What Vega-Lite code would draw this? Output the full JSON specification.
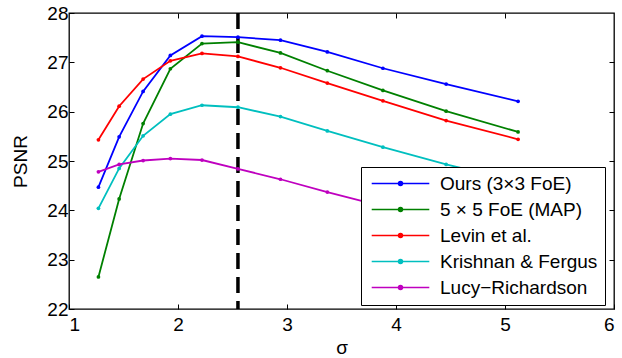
{
  "$schema": "https://vega.github.io/schema/vega-lite/v6.json",
  "width": 545,
  "height": 296,
  "autosize": {"type": "none"},
  "padding": {"left": 69, "top": 13, "right": 8, "bottom": 49},
  "config": {
    "font": "Liberation Sans",
    "view": {"stroke": "black", "strokeWidth": 1.3},
    "axis": {
      "domain": false,
      "grid": false,
      "tickColor": "black",
      "tickSize": -5,
      "tickWidth": 1,
      "labelFontSize": 19,
      "labelColor": "black",
      "labelFont": "Liberation Sans",
      "titleFont": "Liberation Sans",
      "titleFontSize": 19,
      "titleFontWeight": "normal",
      "titleColor": "black"
    }
  },
  "data": {
    "values": [
      {"sigma": 1.27, "psnr": 24.47, "method": "Ours (3×3 FoE)"},
      {"sigma": 1.46, "psnr": 25.49, "method": "Ours (3×3 FoE)"},
      {"sigma": 1.68, "psnr": 26.41, "method": "Ours (3×3 FoE)"},
      {"sigma": 1.93, "psnr": 27.14, "method": "Ours (3×3 FoE)"},
      {"sigma": 2.22, "psnr": 27.53, "method": "Ours (3×3 FoE)"},
      {"sigma": 2.55, "psnr": 27.51, "method": "Ours (3×3 FoE)"},
      {"sigma": 2.94, "psnr": 27.45, "method": "Ours (3×3 FoE)"},
      {"sigma": 3.37, "psnr": 27.21, "method": "Ours (3×3 FoE)"},
      {"sigma": 3.88, "psnr": 26.88, "method": "Ours (3×3 FoE)"},
      {"sigma": 4.46, "psnr": 26.56, "method": "Ours (3×3 FoE)"},
      {"sigma": 5.12, "psnr": 26.21, "method": "Ours (3×3 FoE)"},
      {"sigma": 1.27, "psnr": 22.65, "method": "5 × 5 FoE (MAP)"},
      {"sigma": 1.46, "psnr": 24.23, "method": "5 × 5 FoE (MAP)"},
      {"sigma": 1.68, "psnr": 25.76, "method": "5 × 5 FoE (MAP)"},
      {"sigma": 1.93, "psnr": 26.87, "method": "5 × 5 FoE (MAP)"},
      {"sigma": 2.22, "psnr": 27.38, "method": "5 × 5 FoE (MAP)"},
      {"sigma": 2.55, "psnr": 27.41, "method": "5 × 5 FoE (MAP)"},
      {"sigma": 2.94, "psnr": 27.19, "method": "5 × 5 FoE (MAP)"},
      {"sigma": 3.37, "psnr": 26.83, "method": "5 × 5 FoE (MAP)"},
      {"sigma": 3.88, "psnr": 26.43, "method": "5 × 5 FoE (MAP)"},
      {"sigma": 4.46, "psnr": 26.01, "method": "5 × 5 FoE (MAP)"},
      {"sigma": 5.12, "psnr": 25.59, "method": "5 × 5 FoE (MAP)"},
      {"sigma": 1.27, "psnr": 25.43, "method": "Levin et al."},
      {"sigma": 1.46, "psnr": 26.11, "method": "Levin et al."},
      {"sigma": 1.68, "psnr": 26.66, "method": "Levin et al."},
      {"sigma": 1.93, "psnr": 27.03, "method": "Levin et al."},
      {"sigma": 2.22, "psnr": 27.18, "method": "Levin et al."},
      {"sigma": 2.55, "psnr": 27.12, "method": "Levin et al."},
      {"sigma": 2.94, "psnr": 26.89, "method": "Levin et al."},
      {"sigma": 3.37, "psnr": 26.58, "method": "Levin et al."},
      {"sigma": 3.88, "psnr": 26.22, "method": "Levin et al."},
      {"sigma": 4.46, "psnr": 25.82, "method": "Levin et al."},
      {"sigma": 5.12, "psnr": 25.44, "method": "Levin et al."},
      {"sigma": 1.27, "psnr": 24.04, "method": "Krishnan & Fergus"},
      {"sigma": 1.46, "psnr": 24.85, "method": "Krishnan & Fergus"},
      {"sigma": 1.68, "psnr": 25.51, "method": "Krishnan & Fergus"},
      {"sigma": 1.93, "psnr": 25.95, "method": "Krishnan & Fergus"},
      {"sigma": 2.22, "psnr": 26.13, "method": "Krishnan & Fergus"},
      {"sigma": 2.55, "psnr": 26.09, "method": "Krishnan & Fergus"},
      {"sigma": 2.94, "psnr": 25.9, "method": "Krishnan & Fergus"},
      {"sigma": 3.37, "psnr": 25.61, "method": "Krishnan & Fergus"},
      {"sigma": 3.88, "psnr": 25.28, "method": "Krishnan & Fergus"},
      {"sigma": 4.46, "psnr": 24.93, "method": "Krishnan & Fergus"},
      {"sigma": 5.12, "psnr": 24.58, "method": "Krishnan & Fergus"},
      {"sigma": 1.27, "psnr": 24.78, "method": "Lucy−Richardson"},
      {"sigma": 1.46, "psnr": 24.93, "method": "Lucy−Richardson"},
      {"sigma": 1.68, "psnr": 25.01, "method": "Lucy−Richardson"},
      {"sigma": 1.93, "psnr": 25.05, "method": "Lucy−Richardson"},
      {"sigma": 2.22, "psnr": 25.02, "method": "Lucy−Richardson"},
      {"sigma": 2.55, "psnr": 24.84, "method": "Lucy−Richardson"},
      {"sigma": 2.94, "psnr": 24.63, "method": "Lucy−Richardson"},
      {"sigma": 3.37, "psnr": 24.37, "method": "Lucy−Richardson"},
      {"sigma": 3.88, "psnr": 24.08, "method": "Lucy−Richardson"},
      {"sigma": 4.46, "psnr": 23.8, "method": "Lucy−Richardson"},
      {"sigma": 5.12, "psnr": 23.5, "method": "Lucy−Richardson"}
    ]
  },
  "layer": [
    {
      "mark": {"type": "rule", "color": "black", "strokeWidth": 3.5, "strokeDash": [16, 8]},
      "data": {"values": [{"sigma": 2.55}]},
      "encoding": {
        "x": {"field": "sigma", "type": "quantitative", "scale": {"domain": [1, 6]}, "axis": {"orient": "top", "labels": false, "title": null, "values": [2, 3, 4, 5]}}
      }
    },
    {
      "mark": {"type": "line", "strokeWidth": 1.8, "point": {"filled": true, "size": 14}},
      "encoding": {
        "x": {"field": "sigma", "type": "quantitative", "scale": {"domain": [1, 6]}, "axis": {"orient": "bottom", "title": "σ", "values": [1, 2, 3, 4, 5, 6], "labelPadding": 11, "titlePadding": 4}},
        "y": {"field": "psnr", "type": "quantitative", "scale": {"domain": [22, 28]}, "axis": {"orient": "left", "title": "PSNR", "values": [22, 23, 24, 25, 26, 27, 28], "labelPadding": 6, "titlePadding": 16}},
        "color": {
          "field": "method",
          "type": "nominal",
          "scale": {
            "domain": ["Ours (3×3 FoE)", "5 × 5 FoE (MAP)", "Levin et al.", "Krishnan & Fergus", "Lucy−Richardson"],
            "range": ["#0000ff", "#008000", "#ff0000", "#00bfbf", "#bf00bf"]
          },
          "legend": {
            "title": null,
            "orient": "none",
            "legendX": 292,
            "legendY": 154,
            "fillColor": "white",
            "strokeColor": "black",
            "padding": 7,
            "labelFontSize": 19,
            "labelFont": "Liberation Sans",
            "labelColor": "black",
            "labelOffset": 30,
            "symbolOffset": 23,
            "symbolType": "M-3.6,0H3.6M-0.25,0A0.25,0.25 0 1,1 0.25,0A0.25,0.25 0 1,1 -0.25,0",
            "symbolSize": 256,
            "symbolStrokeWidth": 1.5,
            "rowPadding": 6
          }
        },
        "order": {"field": "sigma", "type": "quantitative"}
      }
    },
    {
      "mark": {"type": "rule", "opacity": 0},
      "data": {"values": [{"y": 25}]},
      "encoding": {
        "y": {"field": "y", "type": "quantitative", "scale": {"domain": [22, 28]}, "axis": {"orient": "right", "labels": false, "title": null, "values": [23, 24, 25, 26, 27]}}
      }
    }
  ],
  "resolve": {"axis": {"x": "independent", "y": "independent"}}
}
